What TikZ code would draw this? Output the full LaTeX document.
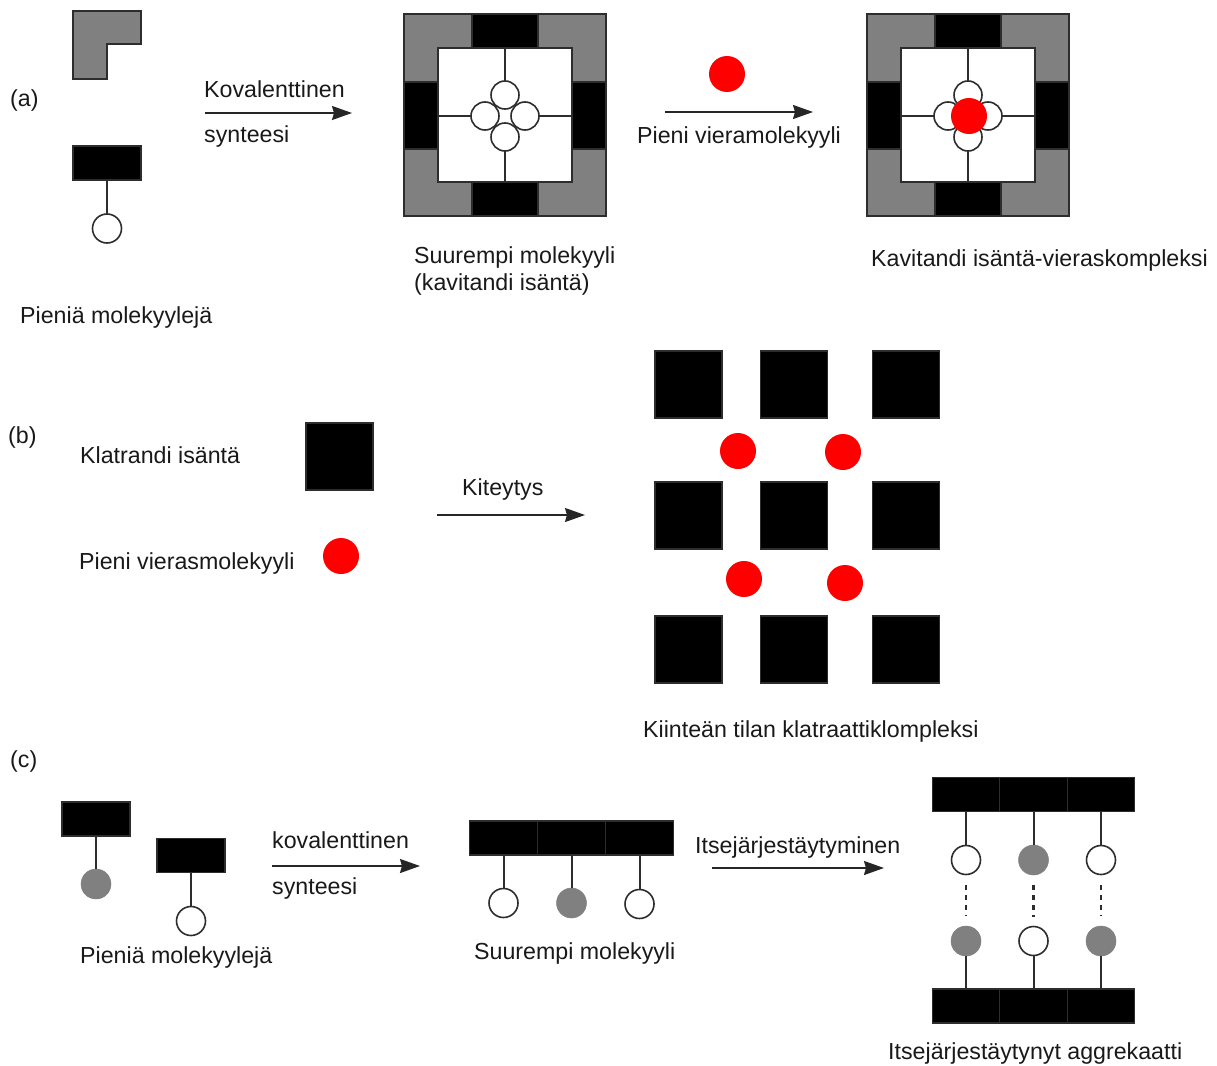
\documentclass[tikz,border=0pt]{standalone}
\usepackage{fontspec}
\setmainfont{Liberation Sans}
\usetikzlibrary{arrows.meta}
\definecolor{mgray}{RGB}{128,128,128}
\definecolor{edgec}{RGB}{45,45,45}
\newcommand\drawcav[2]{%
\begin{scope}[shift={(#2,0)}]
 \draw[gp] (404,14) -- (472,14) -- (472,48) -- (438,48) -- (438,82) -- (404,82) -- cycle;
 \draw[gp] (538,14) -- (606,14) -- (606,82) -- (572,82) -- (572,48) -- (538,48) -- cycle;
 \draw[gp] (404,149) -- (438,149) -- (438,182) -- (472,182) -- (472,216) -- (404,216) -- cycle;
 \draw[gp] (572,149) -- (606,149) -- (606,216) -- (538,216) -- (538,182) -- (572,182) -- cycle;
 \node[blk, minimum width=66pt, minimum height=34pt] (#1bt) at (505,31) {};
 \node[blk, minimum width=66pt, minimum height=34pt] (#1bb) at (505,199) {};
 \node[blk, minimum width=34pt, minimum height=67pt] (#1bl) at (421,115.5) {};
 \node[blk, minimum width=34pt, minimum height=67pt] (#1br) at (589,115.5) {};
 \node[draw=edgec, line width=1.6pt, fill=white, minimum width=134pt, minimum height=134pt, inner sep=0pt] (#1in) at (505,115) {};
 \node[wc, minimum size=28pt] (#1t) at (505,95) {};
 \node[wc, minimum size=28pt] (#1l) at (485,116) {};
 \node[wc, minimum size=28pt] (#1r) at (525,116) {};
 \node[wc, minimum size=28pt] (#1b) at (505,137) {};
 \draw[ln] (#1in.north) -- (#1t);
 \draw[ln] (#1in.south) -- (#1b);
 \draw[ln] (#1in.west |- #1l) -- (#1l);
 \draw[ln] (#1in.east |- #1r) -- (#1r);
\end{scope}}
\begin{document}
\begin{tikzpicture}[x=1pt,y=-1pt,
 lbl/.style={anchor=base west, inner sep=0pt, font=\fontsize{23.2}{27}\selectfont, text=black!90},
 gp/.style={fill=mgray, draw=edgec, line width=1.5pt},
 blk/.style={fill=black, draw=edgec, line width=1.4pt, inner sep=0pt, outer sep=0pt},
 bar/.style={blk, minimum width=68pt, minimum height=34pt},
 bsq/.style={blk, minimum width=67pt, minimum height=67pt},
 wc/.style={circle, fill=white, draw=edgec, line width=1.6pt, inner sep=0pt, outer sep=0pt, minimum size=29pt},
 gc/.style={circle, fill=mgray, draw=mgray, line width=0.5pt, inner sep=0pt, outer sep=0pt, minimum size=30pt},
 rc/.style={circle, fill=red, inner sep=0pt, outer sep=0pt, minimum size=36pt},
 ln/.style={draw=edgec, line width=2pt},
 dln/.style={ln, line width=2.3pt, dash pattern=on 5pt off 5pt, shorten >=10pt, shorten <=10pt},
 arr/.style={draw=black!85, line width=1.7pt, -{Stealth[length=20pt,width=14pt,inset=2pt]}}]
\useasboundingbox (0,0) rectangle (1217,1065);

% ---------------- (a) ----------------
\node[lbl] (la) at (10,106) {(a)};
\draw[gp] (73,11) -- (141,11) -- (141,44) -- (107,44) -- (107,79) -- (73,79) -- cycle;
\node[bar] (a1r) at (107,163) {};
\node[wc] (a1c) at (107,228.5) {};
\draw[ln] (a1r.south) -- (a1c);
\node[lbl] (la1) at (20,323) {Pieniä molekyylejä};

\coordinate (a1s) at (205,113);
\coordinate (a1e) at (352,113);
\draw[arr] (a1s) -- (a1e);
\node[lbl] (la2) at (204,97) {Kovalenttinen};
\node[lbl] (la3) at (204,142) {synteesi};

\drawcav{ca}{0}
\node[lbl] (la4) at (414,263) {Suurempi molekyyli};
\node[lbl] (la5) at (414,290) {(kavitandi isäntä)};

\node[rc] (ag) at (727,74) {};
\coordinate (a2s) at (665,112);
\coordinate (a2e) at (813,112);
\draw[arr] (a2s) -- (a2e);
\node[lbl] (la6) at (637,143) {Pieni vieramolekyyli};

\drawcav{cb}{463}
\node[rc] (cbg) at (969,116) {};
\node[lbl] (la7) at (871,266) {Kavitandi isäntä-vieraskompleksi};

% ---------------- (b) ----------------
\node[lbl] (lb) at (8,443) {(b)};
\node[lbl] (lb1) at (80,463) {Klatrandi isäntä};
\node[bsq] (bh) at (339.5,456.5) {};
\node[lbl] (lb2) at (79,569) {Pieni vierasmolekyyli};
\node[rc] (bg) at (341,556) {};
\coordinate (b1s) at (437,515);
\coordinate (b1e) at (585,515);
\draw[arr] (b1s) -- (b1e);
\node[lbl] (lb3) at (462,495) {Kiteytys};

\foreach \c/\xx in {1/688.5,2/794,3/906}{
  \foreach \r/\yy in {1/384.5,2/515.5,3/649.5}{
    \node[bsq] (sq\c\r) at (\xx,\yy) {};
  }
}
\node[rc] (bg1) at (738,451) {};
\node[rc] (bg2) at (843,452) {};
\node[rc] (bg3) at (744,579) {};
\node[rc] (bg4) at (845,583) {};
\node[lbl] (lb4) at (643,737) {Kiinteän tilan klatraattiklompleksi};

% ---------------- (c) ----------------
\node[lbl] (lc) at (10,767) {(c)};
\node[bar] (c1r) at (96,819) {};
\node[gc] (c1c) at (96,884) {};
\draw[ln] (c1r.south) -- (c1c);
\node[bar] (c2r) at (191,855.5) {};
\node[wc] (c2c) at (191,921) {};
\draw[ln] (c2r.south) -- (c2c);
\node[lbl] (lc1) at (80,963) {Pieniä molekyylejä};

\coordinate (c1s) at (272,866);
\coordinate (c1e) at (420,866);
\draw[arr] (c1s) -- (c1e);
\node[lbl] (lc2) at (272,848) {kovalenttinen};
\node[lbl] (lc3) at (272,894) {synteesi};

\node[bar] (m1) at (503.5,838) {};
\node[bar] (m2) at (571.5,838) {};
\node[bar] (m3) at (639.5,838) {};
\node[wc] (mc1) at (503.5,903) {};
\node[gc] (mc2) at (571.5,903) {};
\node[wc] (mc3) at (639.5,904) {};
\draw[ln] (m1.south) -- (mc1);
\draw[ln] (m2.south) -- (mc2);
\draw[ln] (m3.south) -- (mc3);
\node[lbl] (lc4) at (474,959) {Suurempi molekyyli};

\coordinate (c2s) at (712,868);
\coordinate (c2e) at (884,868);
\draw[arr] (c2s) -- (c2e);
\node[lbl] (lc5) at (695,853) {Itsejärjestäytyminen};

\node[bar, minimum width=67.5pt] (t1) at (966,794.5) {};
\node[bar, minimum width=67.5pt] (t2) at (1033.5,794.5) {};
\node[bar, minimum width=67.5pt] (t3) at (1101,794.5) {};
\node[bar, minimum width=67.5pt] (u1) at (966,1006) {};
\node[bar, minimum width=67.5pt] (u2) at (1033.5,1006) {};
\node[bar, minimum width=67.5pt] (u3) at (1101,1006) {};
\node[wc] (tc1) at (966,860) {};
\node[gc] (tc2) at (1033.5,860) {};
\node[wc] (tc3) at (1101,860) {};
\node[gc] (uc1) at (966,941) {};
\node[wc] (uc2) at (1033.5,941) {};
\node[gc] (uc3) at (1101,941) {};
\foreach \i in {1,2,3}{
  \draw[ln] (t\i.south) -- (tc\i);
  \draw[ln] (u\i.north) -- (uc\i);
  \draw[dln] (tc\i) -- (uc\i);
}
\node[lbl] (lc6) at (888,1059) {Itsejärjestäytynyt aggrekaatti};
\end{tikzpicture}
\end{document}
